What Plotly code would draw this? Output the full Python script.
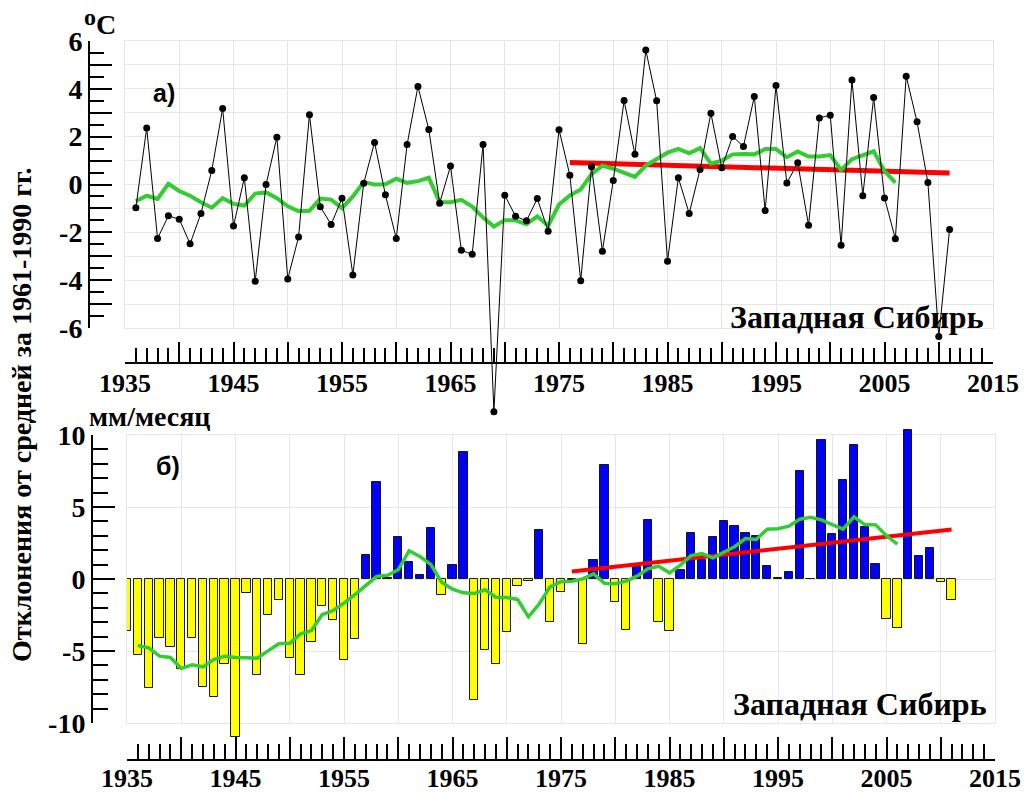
import plotly.graph_objects as go

# ---------------- data ----------------
temp_years = list(range(1936, 2012))
temp_anom = [
    -0.97, 2.36, -2.26, -1.31, -1.45, -2.48, -1.21, 0.59, 3.18, -1.74,
    0.28, -4.05, 0.00, 1.98, -3.95, -2.19, 2.92, -0.93, -1.67, -0.57,
    -3.78, 0.05, 1.76, -0.43, -2.26, 1.67, 4.10, 2.30, -0.78, 0.77,
    -2.75, -2.92, 1.67, -9.50, -0.45, -1.33, -1.52, -0.59, -1.95, 2.29,
    0.39, -4.02, 0.74, -2.79, 0.17, 3.51, 1.26, 5.62, 3.50, -3.21,
    0.28, -1.21, 0.63, 2.98, 0.70, 2.01, 1.59, 3.68, -1.09, 4.14,
    0.06, 0.91, -1.70, 2.78, 2.90, -2.54, 4.37, -0.47, 3.64, -0.56,
    -2.27, 4.53, 2.62, 0.08, -6.36, -1.88,
]

smooth_years = list(range(1936, 2007))
temp_smooth = [
    -0.70, -0.47, -0.60, 0.03, -0.27, -0.47, -0.74, -0.97, -0.57, -0.81,
    -0.88, -0.38, -0.33, -0.57, -0.91, -1.12, -1.10, -0.59, -0.63, -0.99,
    -0.50, 0.10, 0.00, 0.01, 0.24, 0.07, 0.14, 0.28, -0.74, -0.74,
    -0.64, -0.92, -1.38, -1.76, -1.49, -1.50, -1.66, -1.33, -1.73, -0.84,
    -0.46, -0.21, 0.43, 0.79, 0.66, 0.47, 0.32, 0.79, 1.05, 1.33,
    1.49, 1.30, 1.52, 0.87, 1.00, 1.26, 1.28, 1.26, 1.48, 1.48,
    1.14, 1.38, 1.17, 1.17, 1.23, 0.61, 1.06, 1.23, 1.39, 0.56, 0.08,
]

prec_years = list(range(1935, 2012))
prec_anom = [
    -3.60, -5.29, -7.58, -4.09, -4.69, -6.22, -4.09, -7.47, -8.16, -5.89,
    -10.95, -0.98, -6.70, -2.49, -1.49, -5.47, -6.70, -4.39, -1.89, -2.88,
    -5.59, -4.20, 1.70, 6.72, 0.10, 2.90, 1.19, 0.31, 3.51, -1.08,
    1.00, 8.81, -8.37, -4.90, -5.89, -3.67, -0.50, -0.15, 3.41, -2.97,
    -0.89, -0.05, -4.50, 1.31, 7.90, -1.59, -3.51, 0.84, 4.11, -3.00,
    -3.60, 0.61, 3.20, 1.31, 2.90, 4.01, 3.69, 3.20, 3.00, 0.92,
    0.10, 0.50, 7.51, 0.00, 9.62, 3.11, 6.91, 9.32, 3.58, 1.01,
    -2.81, -3.39, 10.35, 1.61, 2.12, -0.20, -1.49,
]

prec_smooth = [
    -4.62, -4.78, -5.36, -5.45, -6.22, -5.96, -6.10, -5.59, -5.36, -5.45,
    -5.47, -5.50, -4.99, -4.50, -4.46, -3.81, -3.58, -2.47, -2.19, -1.68,
    -1.08, -0.45, 0.17, 0.26, 0.64, 1.96, 1.56, 1.01, -0.22, -0.71,
    -0.96, -1.01, -0.75, -1.26, -1.28, -1.42, -2.63, -1.72, -0.54, -0.18,
    -0.15, 0.01, 0.36, -0.29, -0.33, -0.15, 0.20, 0.71, 0.89, 0.43,
    0.96, 1.63, 1.77, 1.47, 1.84, 2.24, 2.81, 2.74, 3.46, 3.49,
    3.67, 4.15, 4.29, 4.11, 3.78, 3.46, 4.32, 3.78, 3.76, 3.00, 2.42,
]

trend_years = [1976, 2011]
temp_trend = [0.92, 0.48]
prec_trend = [0.52, 3.44]

year_ticks = list(range(1935, 2016, 5))
year_labels = [str(y) if (y - 1935) % 10 == 0 else "" for y in year_ticks]
temp_ticks = list(range(-6, 7))
temp_labels = [str(v) if v % 2 == 0 else "" for v in temp_ticks]
prec_ticks = [-10, -5, 0, 5, 10]
prec_labels = [str(v) for v in prec_ticks]

# ---------------- layout helpers ----------------
W, H = 1027, 796
YEAR_RANGE = [1935, 2015]
TEMP_RANGE = [-6, 6]
PREC_RANGE = [-10, 10]

# panel frames in pixels: (left, right, top, bottom)
TOP_BOX = (125, 993, 41, 328)
BOT_BOX = (127, 995, 435, 723)


def fx(p):
    return p / W


def fy(p):
    return 1 - p / H


def stretched(rng, box, new_top, new_bot):
    """Domain and range of a data axis that keeps the panel's scale but lets
    marks run past the framed area (between new_top and new_bot pixels)."""
    lo, hi = rng
    top, bot = box[2], box[3]
    k = (hi - lo) / (bot - top)
    return ([fy(new_bot), fy(new_top)],
            [lo - (new_bot - bot) * k, hi + (top - new_top) * k])


top_dom, top_rng = stretched(TEMP_RANGE, TOP_BOX, 35, 420)
bot_dom, bot_rng = stretched(PREC_RANGE, BOT_BOX, 425, 745)

GREEN = "#33cc33"
RED = "#ff0000"
GRID = "#e6e6e6"
SERIF = "Liberation Serif, Times New Roman, serif"
SANS = "Liberation Sans, Arial, sans-serif"

fig = go.Figure()

# frames with the grids (no data of their own)
fig.add_trace(go.Scatter(x=[], y=[], xaxis="x", yaxis="y", showlegend=False))
fig.add_trace(go.Scatter(x=[], y=[], xaxis="x2", yaxis="y2", showlegend=False))

# ---- panel a: temperature ----
fig.add_trace(go.Scatter(x=trend_years, y=temp_trend, mode="lines",
                         line=dict(color=RED, width=5),
                         xaxis="x5", yaxis="y5", showlegend=False))
fig.add_trace(go.Scatter(x=smooth_years, y=temp_smooth, mode="lines",
                         line=dict(color=GREEN, width=4),
                         xaxis="x5", yaxis="y5", showlegend=False))
fig.add_trace(go.Scatter(x=temp_years, y=temp_anom, mode="lines+markers",
                         line=dict(color="black", width=1),
                         marker=dict(color="black", size=7),
                         xaxis="x5", yaxis="y5", showlegend=False))

# ---- panel b: precipitation ----
bar_colors = ["#0000ff" if v > 0 else "#ffff00" for v in prec_anom]
fig.add_trace(go.Bar(x=prec_years, y=prec_anom, width=0.77,
                     marker=dict(color=bar_colors,
                                 line=dict(color="#1a1a00", width=1)),
                     xaxis="x6", yaxis="y6", showlegend=False))
fig.add_trace(go.Scatter(x=trend_years, y=prec_trend, mode="lines",
                         line=dict(color=RED, width=4),
                         xaxis="x6", yaxis="y6", showlegend=False))
fig.add_trace(go.Scatter(x=smooth_years, y=prec_smooth, mode="lines",
                         line=dict(color=GREEN, width=3.5),
                         xaxis="x6", yaxis="y6", showlegend=False))

# detached scale axes
fig.add_trace(go.Scatter(x=[], y=[], xaxis="x3", yaxis="y3", showlegend=False))
fig.add_trace(go.Scatter(x=[], y=[], xaxis="x4", yaxis="y4", showlegend=False))

grid_axis = dict(showticklabels=False, ticks="", zeroline=False,
                 showgrid=True, gridcolor=GRID, gridwidth=1, automargin=False,
                 showline=True, linecolor=GRID, linewidth=1, mirror=True)

hidden_axis = dict(showticklabels=False, ticks="", zeroline=False,
                   showgrid=False, showline=False, automargin=False)

scale_axis = dict(showgrid=False, zeroline=False, showline=True,
                  linecolor="black", linewidth=2, ticks="inside",
                  tickcolor="black", tickwidth=2, tickmode="array",
                  automargin=False)

xfont = dict(family=SERIF, size=26, color="black", weight="bold")
yfont = dict(family=SERIF, size=28, color="black", weight="bold")

fig.update_layout(
    width=W, height=H, autosize=False,
    margin=dict(l=0, r=0, t=0, b=0, pad=0, autoexpand=False),
    paper_bgcolor="white", plot_bgcolor="rgba(0,0,0,0)",
    bargap=0,
    xaxis=dict(grid_axis, domain=[fx(TOP_BOX[0]), fx(TOP_BOX[1])],
               range=YEAR_RANGE, dtick=5, tick0=1935, anchor="y"),
    yaxis=dict(grid_axis, domain=[fy(TOP_BOX[3]), fy(TOP_BOX[2])],
               range=TEMP_RANGE, dtick=1, anchor="x"),
    xaxis2=dict(grid_axis, domain=[fx(BOT_BOX[0]), fx(BOT_BOX[1])],
                range=YEAR_RANGE, dtick=5, tick0=1935, anchor="y2"),
    yaxis2=dict(grid_axis, domain=[fy(BOT_BOX[3]), fy(BOT_BOX[2])],
                range=PREC_RANGE, dtick=5, anchor="x2"),
    xaxis5=dict(hidden_axis, domain=[fx(TOP_BOX[0]), fx(TOP_BOX[1])],
                range=YEAR_RANGE, anchor="y5"),
    yaxis5=dict(hidden_axis, domain=top_dom, range=top_rng, anchor="x5"),
    xaxis6=dict(hidden_axis, domain=[fx(BOT_BOX[0]), fx(BOT_BOX[1])],
                range=YEAR_RANGE, anchor="y6"),
    yaxis6=dict(hidden_axis, domain=bot_dom, range=bot_rng, anchor="x6"),
    xaxis3=dict(scale_axis, overlaying="x", anchor="free", position=fy(363),
                side="bottom", range=YEAR_RANGE, ticklen=20, tickfont=xfont,
                ticklabelstandoff=-3,
                tickvals=year_ticks, ticktext=year_labels,
                minor=dict(dtick=1, tick0=1935, ticks="inside", ticklen=14,
                           tickwidth=2, tickcolor="black", showgrid=False)),
    yaxis3=dict(scale_axis, overlaying="y", anchor="free", position=fx(89),
                side="left", range=TEMP_RANGE, ticklen=22, tickfont=yfont,
                tickvals=temp_ticks, ticktext=temp_labels,
                minor=dict(dtick=0.5, tick0=0, ticks="inside", ticklen=14,
                           tickwidth=2, tickcolor="black", showgrid=False)),
    xaxis4=dict(scale_axis, overlaying="x2", anchor="free", position=fy(760),
                side="bottom", range=YEAR_RANGE, ticklen=22, tickfont=xfont,
                ticklabelstandoff=-5,
                tickvals=year_ticks, ticktext=year_labels,
                minor=dict(dtick=1, tick0=1935, ticks="inside", ticklen=15,
                           tickwidth=2, tickcolor="black", showgrid=False)),
    yaxis4=dict(scale_axis, overlaying="y2", anchor="free", position=fx(92),
                side="left", range=PREC_RANGE, ticklen=22, tickfont=yfont,
                tickvals=prec_ticks, ticktext=prec_labels,
                minor=dict(dtick=1, tick0=0, ticks="inside", ticklen=15,
                           tickwidth=2, tickcolor="black", showgrid=False)),
)

serif_bold = dict(family=SERIF, color="black", weight="bold")
sans_bold = dict(family=SANS, color="black", weight="bold")
annotations = [
    dict(text="o", x=fx(90), y=fy(17), font=dict(serif_bold, size=24)),
    dict(text="C", x=fx(106), y=fy(24), font=dict(serif_bold, size=28)),
    dict(text="а)", x=fx(164), y=fy(93), font=dict(sans_bold, size=25)),
    dict(text="б)", x=fx(168), y=fy(466), font=dict(sans_bold, size=25)),
    dict(text="Западная Сибирь", x=fx(857), y=fy(317),
         font=dict(serif_bold, size=32)),
    dict(text="Западная Сибирь", x=fx(860), y=fy(704),
         font=dict(serif_bold, size=32)),
    dict(text="мм/месяц", x=fx(149), y=fy(416), font=dict(serif_bold, size=28)),
    dict(text="Отклонения от средней за 1961-1990 гг.", x=fx(22), y=fy(415),
         textangle=-90, font=dict(serif_bold, size=28)),
]
for a in annotations:
    a.update(xref="paper", yref="paper", showarrow=False,
             xanchor="center", yanchor="middle")
fig.update_layout(annotations=annotations)

fig.write_html("out.html")
